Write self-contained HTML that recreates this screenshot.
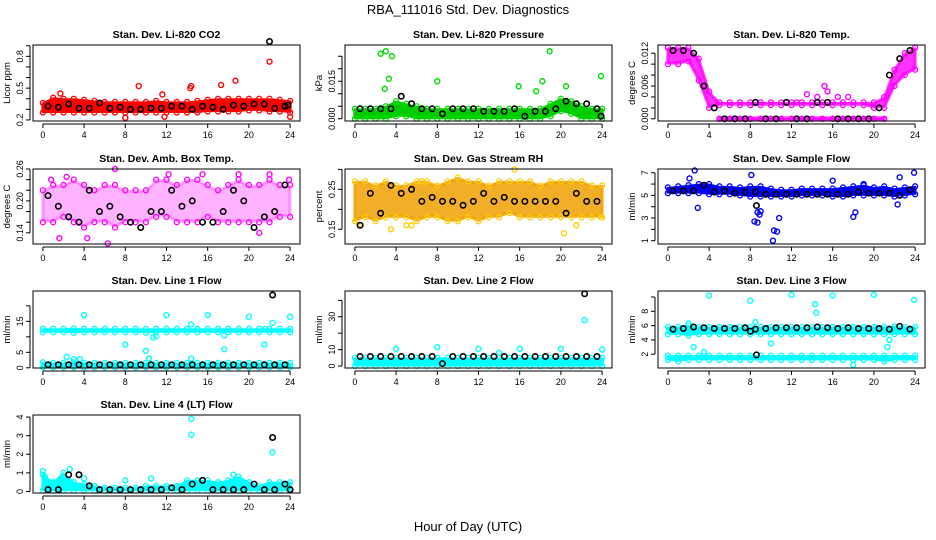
<!DOCTYPE html>
<html><head><meta charset="utf-8"><style>
body{margin:0;background:#fff}
svg{display:block;font-family:"Liberation Sans",sans-serif}
</style></head><body>
<svg id="c" width="936" height="540" viewBox="0 0 936 540">
<text x="468" y="14" text-anchor="middle" font-size="13">RBA_111016  Std. Dev. Diagnostics</text>
<text x="468" y="531" text-anchor="middle" font-size="13">Hour of Day (UTC)</text>
</svg>
<script>
const hours = [0,1,2,3,4,5,6,7,8,9,10,11,12,13,14,15,16,17,18,19,20,21,22,23,24];
const blackHours = [0.5,1.5,2.5,3.5,4.5,5.5,6.5,7.5,8.5,9.5,10.5,11.5,12.5,13.5,14.5,15.5,16.5,17.5,18.5,19.5,20.5,21.5,22.5,23.5];
const xTicks = [0,4,8,12,16,20,24];

// CO2
const co2Lo = [0.27,0.27,0.27,0.27,0.27,0.27,0.27,0.27,0.27,0.27,0.27,0.27,0.27,0.27,0.27,0.27,0.28,0.28,0.28,0.28,0.29,0.29,0.28,0.28,0.27];
const co2Hi = [0.36,0.41,0.40,0.40,0.39,0.38,0.37,0.37,0.37,0.37,0.37,0.38,0.37,0.37,0.37,0.38,0.39,0.40,0.40,0.40,0.40,0.40,0.40,0.39,0.38];
const co2Black = [0.33,0.32,0.35,0.31,0.31,0.36,0.31,0.32,0.30,0.30,0.31,0.31,0.33,0.33,0.30,0.33,0.32,0.30,0.34,0.33,0.35,0.35,0.31,0.33];
const co2ExtraH = [1.7,9.3,11.6,14.3,14.4,17.3,18.7,22,8,24,11.8];
const co2ExtraV = [0.45,0.52,0.44,0.50,0.52,0.53,0.57,0.75,0.22,0.23,0.23];
const co2BlackExH = [22,23.8];
const co2BlackExV = [0.94,0.34];
// Pressure
const prLo = [0,0,0,0,0.001,0.001,0,0,0,0,0,0,0,0,0,0,0,0,0,0.001,0.003,0.002,0,0,0];
const prHi = [0.004,0.004,0.004,0.005,0.007,0.006,0.005,0.004,0.004,0.004,0.004,0.004,0.004,0.004,0.004,0.004,0.004,0.004,0.004,0.006,0.008,0.007,0.005,0.004,0.004];
const prBlack = [0.004,0.004,0.004,0.004,0.009,0.006,0.004,0.004,0.002,0.004,0.004,0.004,0.003,0.003,0.003,0.004,0.001,0.003,0.003,0.004,0.007,0.006,0.006,0.004];
const prExtraH = [2.5,3,3.6,3.3,2.9,8,15.9,17.6,18.2,18.9,20.5,23.9];
const prExtraV = [0.026,0.027,0.025,0.016,0.012,0.015,0.013,0.011,0.015,0.027,0.013,0.017];
const prBlackExH = [23.9];
const prBlackExV = [0.001];
// Li-820 temp
const tpLo = [0.010,0.010,0.0105,0.007,0.002,0.0025,0.0025,0.0025,0.0025,0.0025,0.0025,0.0025,0.0025,0.0025,0.0025,0.0025,0.0025,0.0025,0.0025,0.0025,0.002,0.002,0.006,0.008,0.009];
const tpHi = [0.013,0.013,0.013,0.011,0.005,0.003,0.003,0.003,0.003,0.003,0.003,0.003,0.003,0.003,0.003,0.003,0.003,0.003,0.003,0.003,0.003,0.004,0.009,0.012,0.013];
const tpZeroLo = [null,null,null,null,null,0,0,0,0,0,0,0,0,0,0,0,0,0,0,0,0,0,null,null,null];
const tpZeroHi = [null,null,null,null,null,0,0,0,0,0,0,0,0,0,0,0,0,0,0,0,0,0,null,null,null];
const tpBlack = [0.0125,0.0125,0.012,0.006,0.002,0,0,0,0.003,0,0,0.003,0,0,0.003,0.003,0,0,0,0,0.002,0.008,0.011,0.0125];
const tpExtraH = [13.5,15.2,15.5,17.5,14.5,12.5,16.5];
const tpExtraV = [0.0045,0.006,0.005,0.004,0.004,0.003,0.004];
// Ambient box temp
const abLo = [0.16,0.16,0.17,0.16,0.15,0.16,0.16,0.15,0.16,0.16,0.16,0.17,0.17,0.16,0.16,0.16,0.17,0.16,0.16,0.16,0.16,0.16,0.16,0.17,0.17];
const abHi = [0.22,0.23,0.23,0.24,0.23,0.22,0.23,0.23,0.22,0.22,0.22,0.24,0.24,0.23,0.24,0.24,0.23,0.22,0.23,0.24,0.23,0.23,0.24,0.23,0.23];
const abBlack = [0.21,0.19,0.17,0.16,0.22,0.18,0.19,0.17,0.16,0.15,0.18,0.18,0.22,0.19,0.20,0.16,0.16,0.18,0.22,0.20,0.15,0.17,0.18,0.23];
const abExtraH = [0.8,1.6,2.3,6.3,7,12.2,15.5,19,21,22,23.9,4.3];
const abExtraV = [0.24,0.13,0.245,0.12,0.26,0.25,0.25,0.25,0.14,0.25,0.24,0.13];
// Gas stream RH
const rhLo = [0.17,0.18,0.17,0.18,0.18,0.18,0.17,0.18,0.18,0.17,0.17,0.18,0.17,0.18,0.18,0.19,0.18,0.18,0.18,0.18,0.18,0.18,0.18,0.18,0.18];
const rhHi = [0.27,0.27,0.26,0.27,0.26,0.26,0.27,0.27,0.26,0.27,0.28,0.27,0.27,0.26,0.27,0.27,0.27,0.27,0.26,0.27,0.27,0.27,0.27,0.26,0.26];
const rhBlack = [0.16,0.24,0.19,0.26,0.24,0.25,0.22,0.23,0.22,0.22,0.21,0.22,0.24,0.22,0.23,0.22,0.22,0.22,0.22,0.22,0.19,0.24,0.22,0.22];
const rhExtraH = [0.6,3.5,5,5.5,6.5,15.5,20.3,21.5,23.9];
const rhExtraV = [0.16,0.15,0.16,0.16,0.27,0.30,0.14,0.16,0.18];
// Sample flow
const sfLo = [5.2,5.2,5.2,5.2,5.1,5.1,5.1,5.0,4.9,4.9,4.9,4.9,4.9,5.0,5.0,5.0,4.9,4.9,5.0,5.0,5.0,5.0,4.9,5.0,5.1];
const sfHi = [5.7,5.8,5.9,6.0,6.0,5.8,5.8,5.7,5.8,5.8,5.6,5.5,5.5,5.6,5.6,5.6,5.6,5.7,5.8,5.9,5.7,5.8,5.6,5.7,5.8];
const sfBlack = [5.4,5.4,5.4,5.9,5.3,5.4,5.2,5.3,5.3,5.1,5.1,5.1,5.1,5.1,5.1,5.1,5.1,5.1,5.3,5.2,5.2,5.2,5.0,5.5];
const sfExtraH = [2.1,2.6,2.9,8.1,8.4,8.7,8.7,9.0,8.9,10.2,10.3,10.6,10.8,16,18,18.2,19,22.5,22.3,23.9];
const sfExtraV = [6.5,7.2,3.9,6.8,2.7,3.5,2.6,3.6,3.3,1.0,1.9,1.8,3.0,6.3,3.1,3.5,6.0,6.6,4.2,7.0];
const sfBlackExH = [8.6];
const sfBlackExV = [4.1];
// Line 1
const l1UpLo = [11.5,11.5,11.5,11.3,11.5,11.5,11.5,11.5,11.5,11.5,11.3,11.5,11.5,11.5,11.5,11.5,11.5,11.5,11.5,11.5,11.5,11.5,11.5,11.5,11.5];
const l1UpHi = [12.6,12.6,12.6,12.7,12.6,12.6,12.6,12.6,12.6,12.6,12.6,12.6,12.6,12.6,12.6,12.6,12.6,12.6,12.6,12.6,12.6,12.6,12.6,12.6,12.6];
const l1DnLo = [0.2,0.2,0.2,0.2,0.2,0.2,0.2,0.2,0.2,0.2,0.2,0.2,0.2,0.2,0.2,0.2,0.2,0.2,0.2,0.2,0.2,0.2,0.2,0.2,0.2];
const l1DnHi = [1.8,1.6,1.6,1.8,1.6,1.6,1.6,1.6,1.6,1.6,1.6,1.6,1.6,1.6,1.6,1.6,1.6,1.6,1.6,1.6,1.6,1.6,1.6,1.6,1.6];
const l1Black = [1,1,1,1,1,1,1,1,1,1,1,1,1,1,1,1,1,1,1,1,1,1,1,1];
const l1ExtraH = [2.3,3,3.6,4,8,10,10.3,10.7,11,12,14.4,14.4,16,17.6,17.6,20,21.5,21.6,22.3,24];
const l1ExtraV = [3.5,2.8,2.8,17,7.5,5.5,3,9.8,10.2,17,14,3,17,6,10.5,16.5,7.5,12.5,14.5,16.5];
const l1BlackExH = [22.3];
const l1BlackExV = [23.5];
// Line 2
const l2Lo = [0,0,0,0,0,0,0,0,0,0,0,0,0,0,0,0,0,0,0,0,0,0,0,0,0];
const l2Hi = [5,5,5,5,5,5,5,5,5,5,5,5,5,5,5,5,5,5,5,5,5,5,5,5,5];
const l2Black = [5.8,5.8,5.8,5.8,5.8,5.8,5.8,5.8,1.5,5.8,5.8,5.8,5.8,5.8,5.8,5.8,5.8,5.8,5.8,5.8,5.8,5.8,5.8,5.8];
const l2ExtraH = [4,8,12,16,20,24,22.3,14];
const l2ExtraV = [10.5,11.5,10.5,10.5,10.5,10,28,8];
const l2BlackExH = [22.3];
const l2BlackExV = [44];
// Line 3
const l3UpLo = [4.8,4.8,4.6,4.8,4.8,4.8,4.8,4.8,4.8,4.8,4.8,4.8,4.8,4.8,4.8,4.8,4.8,4.8,4.8,4.8,4.8,4.8,4.8,4.8,4.8];
const l3UpHi = [5.8,5.8,6.0,5.8,5.8,5.8,5.8,5.8,5.8,5.8,5.8,5.8,5.8,5.8,5.8,5.8,5.8,5.8,5.8,5.8,5.8,5.8,5.9,5.8,5.8];
const l3DnLo = [1.2,1.0,1.2,1.2,1.2,1.2,1.2,1.2,1.2,1.2,1.2,1.2,1.2,1.2,1.2,1.2,1.2,1.2,1.2,1.2,1.2,1.0,1.2,1.2,1.2];
const l3DnHi = [1.8,1.8,1.8,1.8,1.8,1.8,1.8,1.8,1.8,1.8,1.8,1.8,1.8,1.8,1.8,1.8,1.8,1.8,1.8,1.8,1.8,1.8,1.8,1.8,1.8];
const l3Black = [5.5,5.6,5.8,5.7,5.6,5.6,5.6,5.7,5.5,5.6,5.7,5.7,5.7,5.7,5.8,5.7,5.6,5.7,5.6,5.6,5.6,5.5,5.9,5.5];
const l3ExtraH = [2.5,3.5,4,8,8.5,10,12,14.3,14.4,16,20,21.3,21.5,23.9,18,2];
const l3ExtraV = [3,2.3,10.2,9.5,6.5,3.5,10.3,9,7.8,10.2,10.3,3,4,9.6,0.5,6.3];
const l3BlackExH = [8.6,8];
const l3BlackExV = [1.9,5.2];
// Line 4
const l4Lo = [0.05,0.05,0.05,0.05,0.05,0.05,0.05,0.05,0.05,0.05,0.05,0.05,0.05,0.05,0.05,0.05,0.05,0.05,0.05,0.05,0.05,0.05,0.05,0.05,0.05];
const l4Hi = [0.9,0.5,1.0,0.5,0.4,0.3,0.2,0.2,0.2,0.2,0.3,0.3,0.3,0.3,0.6,0.6,0.6,0.5,0.6,0.8,0.5,0.3,0.5,0.5,0.5];
const l4Black = [0.1,0.1,0.9,0.9,0.3,0.1,0.1,0.1,0.1,0.1,0.1,0.1,0.2,0.1,0.4,0.6,0.1,0.1,0.1,0.1,0.4,0.1,0.1,0.4];
const l4ExtraH = [0,0.2,2.6,4,8,10.5,14.4,14.4,22.3,18.5];
const l4ExtraV = [1.1,0.8,1.2,0.7,0.6,0.7,3.9,3.05,2.1,0.9];
const l4BlackExH = [22.3,24];
const l4BlackExV = [2.9,0.1];

const svg = document.getElementById('c');
const NS = 'http://www.w3.org/2000/svg';
function mk(tag, attrs, parent){
  const e = document.createElementNS(NS, tag);
  for (const k in attrs) e.setAttribute(k, attrs[k]);
  (parent||svg).appendChild(e);
  return e;
}
const panels = [
 {id:'co2',title:'Stan. Dev. Li-820 CO2',ylab:'Licor ppm',x:33,y:45,h:76,v0:0.19,v1:0.907,color:'#ff0000',fill:'#ff0000',op:1,
  bands:[[co2Lo,co2Hi]],black:co2Black,exH:co2ExtraH,exV:co2ExtraV,bxH:co2BlackExH,bxV:co2BlackExV,
  ticks:[0.2,0.3,0.4,0.5,0.6,0.7,0.8,0.9],labels:[[0.2,'0.2'],[0.5,'0.5'],[0.8,'0.8']]},
 {id:'pressure',title:'Stan. Dev. Li-820 Pressure',ylab:'kPa',x:345,y:45,h:76,v0:-0.0009,v1:0.0295,color:'#00dd00',fill:'#00cc00',op:1,
  bands:[[prLo,prHi]],black:prBlack,exH:prExtraH,exV:prExtraV,bxH:prBlackExH,bxV:prBlackExV,
  ticks:[0,0.005,0.01,0.015,0.02,0.025],labels:[[0,'0.000'],[0.015,'0.015']]},
 {id:'li820-temp',title:'Stan. Dev. Li-820 Temp.',ylab:'degrees C',x:658,y:45,h:76,v0:-0.0004,v1:0.0135,color:'#ff00ff',fill:'#ff00ff',op:0.8,
  bands:[[tpLo,tpHi],[tpZeroLo,tpZeroHi]],black:tpBlack,exH:tpExtraH,exV:tpExtraV,bxH:[],bxV:[],
  ticks:[0,0.002,0.004,0.006,0.008,0.01,0.012],labels:[[0,'0.000'],[0.006,'0.006'],[0.012,'0.012']]},
 {id:'amb-box-temp',title:'Stan. Dev. Amb. Box Temp.',ylab:'degrees C',x:33,y:169,h:75,v0:0.119,v1:0.26,color:'#ff00ff',fill:'#ff00ff',op:0.3,
  bands:[[abLo,abHi]],black:abBlack,exH:abExtraH,exV:abExtraV,bxH:[],bxV:[],
  ticks:[0.14,0.16,0.18,0.2,0.22,0.24,0.26],labels:[[0.14,'0.14'],[0.2,'0.20'],[0.26,'0.26']]},
 {id:'gas-stream-rh',title:'Stan. Dev. Gas Stream RH',ylab:'percent',x:345,y:169,h:75,v0:0.113,v1:0.301,color:'#ffd000',fill:'#f0a000',op:0.85,
  bands:[[rhLo,rhHi]],black:rhBlack,exH:rhExtraH,exV:rhExtraV,bxH:[],bxV:[],
  ticks:[0.15,0.2,0.25,0.3],labels:[[0.15,'0.15'],[0.25,'0.25']]},
 {id:'sample-flow',title:'Stan. Dev. Sample Flow',ylab:'ml/min',x:658,y:169,h:75,v0:0.707,v1:7.33,color:'#0000ff',fill:'#0000ff',op:1,
  bands:[[sfLo,sfHi]],black:sfBlack,exH:sfExtraH,exV:sfExtraV,bxH:sfBlackExH,bxV:sfBlackExV,
  ticks:[1,2,3,4,5,6,7],labels:[[1,'1'],[3,'3'],[5,'5'],[7,'7']]},
 {id:'line1-flow',title:'Stan. Dev. Line 1 Flow',ylab:'ml/min',x:33,y:291,h:77,v0:-0.06,v1:24.8,color:'#00ffff',fill:'#00ffff',op:1,
  bands:[[l1UpLo,l1UpHi],[l1DnLo,l1DnHi]],black:l1Black,exH:l1ExtraH,exV:l1ExtraV,bxH:l1BlackExH,bxV:l1BlackExV,
  ticks:[0,5,10,15,20],labels:[[0,'0'],[5,'5'],[15,'15']]},
 {id:'line2-flow',title:'Stan. Dev. Line 2 Flow',ylab:'ml/min',x:345,y:291,h:77,v0:-1.2,v1:45.7,color:'#00ffff',fill:'#00ffff',op:1,
  bands:[[l2Lo,l2Hi]],black:l2Black,exH:l2ExtraH,exV:l2ExtraV,bxH:l2BlackExH,bxV:l2BlackExV,
  ticks:[0,10,20,30,40],labels:[[0,'0'],[10,'10'],[30,'30']]},
 {id:'line3-flow',title:'Stan. Dev. Line 3 Flow',ylab:'ml/min',x:658,y:291,h:77,v0:0.07,v1:10.84,color:'#00ffff',fill:'#00ffff',op:1,
  bands:[[l3UpLo,l3UpHi],[l3DnLo,l3DnHi]],black:l3Black,exH:l3ExtraH,exV:l3ExtraV,bxH:l3BlackExH,bxV:l3BlackExV,
  ticks:[2,4,6,8,10],labels:[[2,'2'],[4,'4'],[6,'6'],[8,'8']]},
 {id:'line4-flow',title:'Stan. Dev. Line 4 (LT) Flow',ylab:'ml/min',x:33,y:415,h:78,v0:-0.08,v1:4.11,color:'#00ffff',fill:'#00ffff',op:1,
  bands:[[l4Lo,l4Hi]],black:l4Black,exH:l4ExtraH,exV:l4ExtraV,bxH:l4BlackExH,bxV:l4BlackExV,
  ticks:[0,1,2,3,4],labels:[[0,'0'],[1,'1'],[2,'2'],[3,'3'],[4,'4']]}
];
const W = 267;
panels.forEach(p => {
  const g = mk('g', {});
  
  
  const xs = h => p.x + W * (h + 0.96) / 25.92;
  const ys = v => p.y + p.h - p.h * (v - p.v0) / (p.v1 - p.v0);
  const plot = mk('g', {}, g);
  
  
  p.bands.forEach(([lo, hi]) => {
    let segs = [], cur = [];
    hours.forEach((h, i) => { if (lo[i] == null) { if (cur.length) segs.push(cur); cur = []; } else cur.push(i); });
    if (cur.length) segs.push(cur);
    segs.forEach(s => {
      const top = s.map(i => xs(hours[i]) + ',' + (ys(hi[i]) + 1));
      const bot = s.slice().reverse().map(i => xs(hours[i]) + ',' + (ys(lo[i]) - 1));
      const band = mk('polygon', {points: top.concat(bot).join(' '), fill: p.fill, 'fill-opacity': p.op, stroke: p.fill, 'stroke-width': 3, 'stroke-opacity': p.op, 'stroke-linejoin': 'round'}, plot);
      
      
      s.forEach(i => {
        [lo[i], hi[i]].forEach(v => {
          const c = mk('circle', {cx: xs(hours[i]), cy: ys(v), r: 2.5, fill: 'none', stroke: p.color, 'stroke-width': 1.3}, plot);
          
          
        });
      });
    });
  });
  p.exH.forEach((h, i) => {
    const c = mk('circle', {cx: xs(h), cy: ys(p.exV[i]), r: 2.5, fill: 'none', stroke: p.color, 'stroke-width': 1.4}, plot);
    
    
  });
  p.black.forEach((v, i) => {
    const c = mk('circle', {cx: xs(blackHours[i]), cy: ys(v), r: 2.7, fill: 'none', stroke: '#000', 'stroke-width': 1.6}, plot);
    
    
  });
  p.bxH.forEach((h, i) => {
    const c = mk('circle', {cx: xs(h), cy: ys(p.bxV[i]), r: 2.7, fill: 'none', stroke: '#000', 'stroke-width': 1.6}, plot);
    
    
  });
  const box = mk('rect', {x: p.x, y: p.y, width: W, height: p.h, fill: 'none', stroke: '#000', 'stroke-width': 1}, g);
  
  
  const t = mk('text', {x: p.x + W / 2, y: p.y - 7, 'text-anchor': 'middle', 'font-size': 10.5, 'font-weight': 'bold'}, g);
  t.textContent = p.title;
  
  
  const xa = mk('g', {}, g);
  
  
  const yb = p.y + p.h;
  mk('line', {x1: xs(0), x2: xs(24), y1: yb + 3, y2: yb + 3, stroke: '#000'}, xa);
  xTicks.forEach(h => {
    mk('line', {x1: xs(h), x2: xs(h), y1: yb + 3, y2: yb + 7, stroke: '#000'}, xa);
    const tl = mk('text', {x: xs(h), y: yb + 17, 'text-anchor': 'middle', 'font-size': 9}, xa);
    tl.textContent = h;
    
    
  });
  const ya = mk('g', {}, g);
  
  
  const t0 = p.ticks[0], t1 = p.ticks[p.ticks.length - 1];
  mk('line', {x1: p.x - 3, x2: p.x - 3, y1: ys(t0), y2: ys(t1), stroke: '#000'}, ya);
  p.ticks.forEach(v => mk('line', {x1: p.x - 7, x2: p.x - 3, y1: ys(v), y2: ys(v), stroke: '#000'}, ya));
  p.labels.forEach(([v, s]) => {
    const tl = mk('text', {x: 0, y: 0, 'text-anchor': 'middle', 'font-size': 9, transform: `translate(${p.x - 10},${ys(v)}) rotate(-90)`}, ya);
    tl.textContent = s;
    
    
  });
  const yl = mk('text', {x: 0, y: 0, 'text-anchor': 'middle', 'font-size': 9.5, transform: `translate(${p.x - 23},${p.y + p.h / 2}) rotate(-90)`}, g);
  yl.textContent = p.ylab;
  
  
});
</script>
</body></html>
